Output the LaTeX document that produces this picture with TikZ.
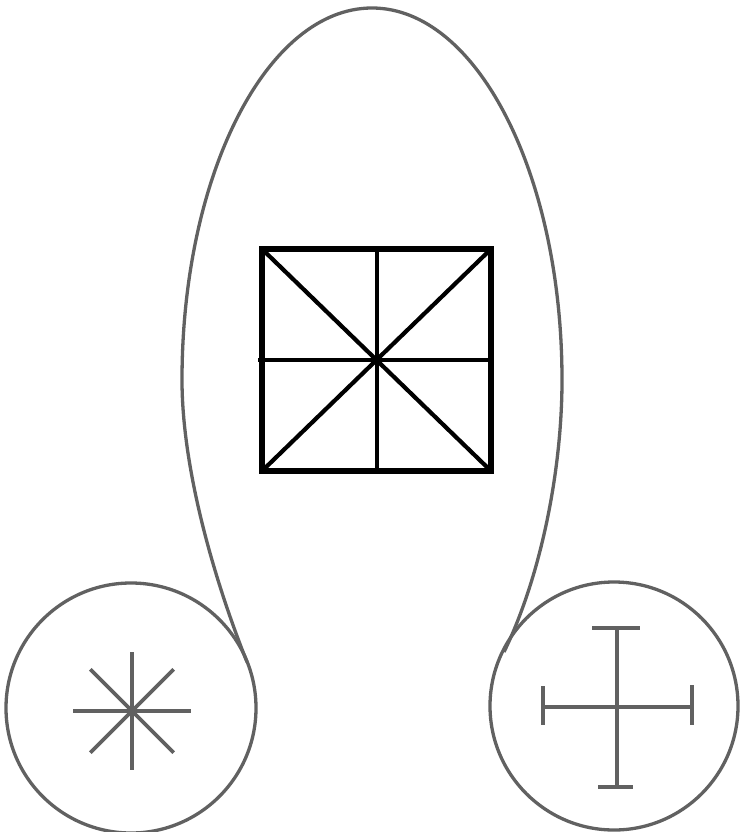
\documentclass[tikz,border=0pt]{standalone}
\usepackage{tikz}
\usetikzlibrary{calc}

\begin{document}
\begin{tikzpicture}[
    outline/.style={draw=black!62, line width=3.3pt, line join=round},
    glyph/.style={draw=black!62, line width=3.7pt},
    grid/.style={draw=black, line width=4.2pt},
    frame/.style={draw=black, line width=5.2pt, line join=miter},
    x=1pt, y=-1pt
]
\useasboundingbox (0,0) rectangle (743,832);

% --- Centres ---
\coordinate (L) at (131,708);
\coordinate (R) at (614,706);
\coordinate (S) at (377,360);

% --- Side circles ---
\draw[outline] (L) circle (125);
\draw[outline] (R) circle (124);

% --- Big loop between the circles ---
\coordinate (tl) at (247,662);
\coordinate (tr) at (504,652);
\draw[outline] (tl) .. controls (215,582) and (182,470) .. (182,380)
    arc[start angle=180, end angle=0, x radius=190pt, y radius=372pt]
    .. controls (562,470) and (541,576) .. (tr);

% --- Square with its cross and diagonals ---
\coordinate (sw) at (262,471);
\coordinate (ne) at (491,249);
\draw[grid] (sw) -- (ne);
\draw[grid] (sw |- ne) -- (ne |- sw);
\draw[grid] ($(S |- ne)$) -- ($(S |- sw)+(0,3)$);
\draw[grid] ($(sw |- S)+(-4,0)$) -- ($(ne |- S)$);
\draw[frame] (sw) rectangle (ne);

% --- Asterisk (left) ---
\foreach \a in {0,45,...,315}
    \draw[glyph] (132,711) -- ++(\a:59);

% --- Cross with end bars (right) ---
\coordinate (C) at (617,707);
\draw[glyph] ($(C)+(0,-79)$) -- ($(C)+(0,80)$);
\draw[glyph] ($(C)+(-74,0)$) -- ($(C)+(75,0)$);
\draw[glyph] ($(C)+(-25,-79)$) -- ($(C)+(23,-79)$);
\draw[glyph] ($(C)+(-19,80)$) -- ($(C)+(16,80)$);
\draw[glyph] ($(C)+(-74,-21)$) -- ($(C)+(-74,18)$);
\draw[glyph] ($(C)+(75,-22)$) -- ($(C)+(75,18)$);

\end{tikzpicture}
\end{document}
